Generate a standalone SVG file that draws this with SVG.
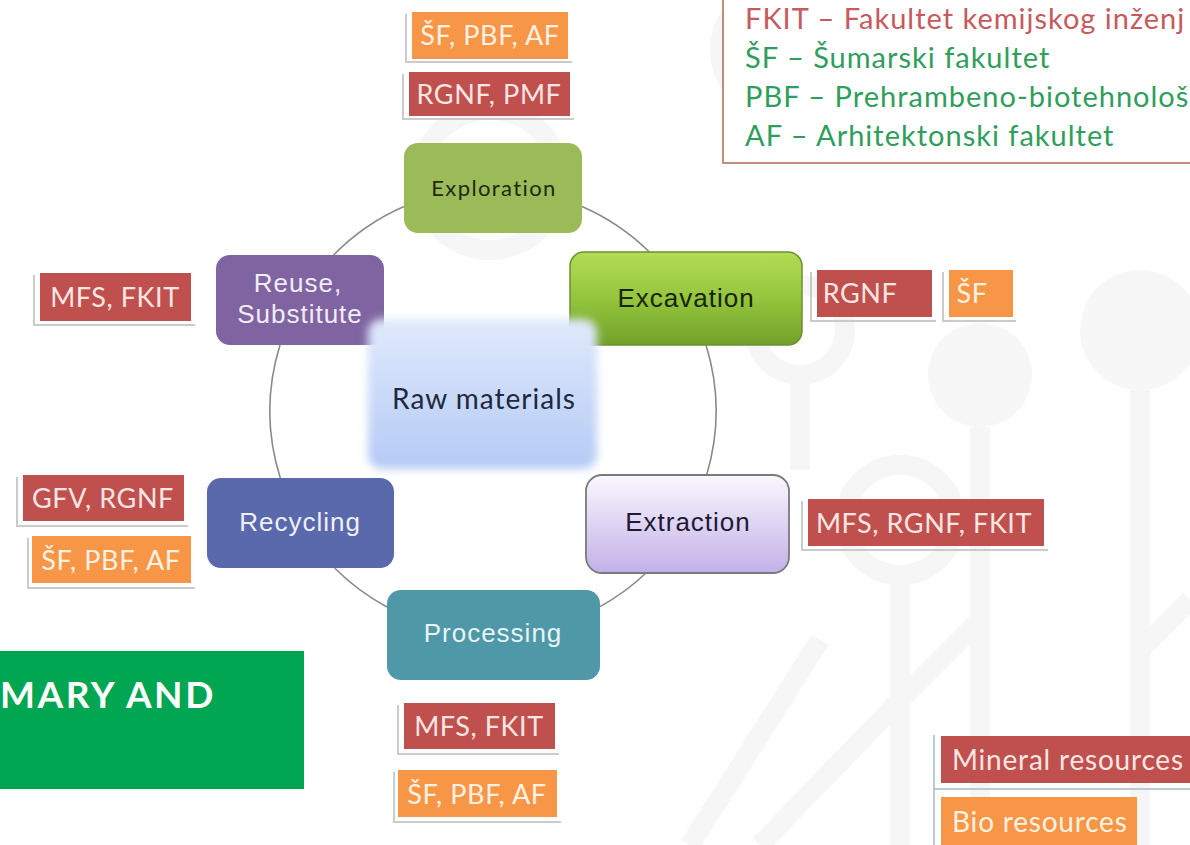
<svg xmlns="http://www.w3.org/2000/svg" width="1190" height="845" viewBox="0 0 1190 845">
<defs>
<style>
.bgs{fill:none;stroke:#f6f6f6;stroke-width:20}
.bgc{fill:#f7f7f7}
.tag{stroke:none}
.red{fill:#c0504d}
.org{fill:#f79646}
.sh{fill:none;stroke:#b9b9b9;stroke-width:2;opacity:0.75}
.tt{font-family:Lato,"Liberation Sans",sans-serif;font-size:27px;letter-spacing:0.6px;text-anchor:middle}
.tr{fill:#fbe6e4}
.to{fill:#fff2e2}
.nt{font-family:"Liberation Sans",Arial,sans-serif;font-size:26px;text-anchor:middle;letter-spacing:1px}
.lg{font-family:Lato,"Liberation Sans",sans-serif;font-size:29px;letter-spacing:1px}
.kt{font-family:Lato,"Liberation Sans",sans-serif;font-size:28px;letter-spacing:0.8px}
.arc{fill:none;stroke:#8a8a8a;stroke-width:1.6}
</style>
<linearGradient id="gExc" x1="0" y1="0" x2="0" y2="1">
<stop offset="0" stop-color="#b2dd55"/><stop offset="0.5" stop-color="#94c53c"/><stop offset="1" stop-color="#72a12a"/>
</linearGradient>
<linearGradient id="gExt" x1="0" y1="0" x2="0" y2="1">
<stop offset="0" stop-color="#faf8fd"/><stop offset="1" stop-color="#c3b0e8"/>
</linearGradient>
<linearGradient id="gRaw" x1="0" y1="0" x2="0" y2="1">
<stop offset="0" stop-color="#dfe9fb"/><stop offset="1" stop-color="#b5cbf6"/>
</linearGradient>
<filter id="blur" x="-10%" y="-10%" width="120%" height="120%"><feGaussianBlur stdDeviation="4"/></filter>
</defs>
<rect width="1190" height="845" fill="#ffffff"/>
<g id="background">
<circle cx="490" cy="180" r="70" class="bgs"/>
<circle cx="1040" cy="60" r="80" class="bgs"/>
<circle cx="780" cy="50" r="60" class="bgs"/>
<circle cx="980" cy="375" r="52" class="bgc"/>
<path d="M980 427 V845" class="bgs"/>
<circle cx="1140" cy="330" r="60" class="bgc"/>
<path d="M1140 390 V845" class="bgs"/>
<circle cx="900" cy="520" r="55" class="bgs"/>
<path d="M900 575 V845" class="bgs"/>
<circle cx="800" cy="330" r="45" class="bgs"/>
<path d="M800 375 V470" class="bgs"/>
<path d="M760 845 L900 700 L980 620" class="bgs"/>
<path d="M1190 600 L1140 650" class="bgs"/>
<path d="M690 845 L820 640" class="bgs"/>
</g>
<g id="connectors">
<path class="arc" d="M582,206.5 A223,223 0 0 1 649.4,252"/>
<path class="arc" d="M706,345 A223,223 0 0 1 706.6,475"/>
<path class="arc" d="M646,573 A223,223 0 0 1 600,606.6"/>
<path class="arc" d="M387,607 A223,223 0 0 1 334.6,568"/>
<path class="arc" d="M280.3,478 A223,223 0 0 1 280,345"/>
<path class="arc" d="M333.6,255 A223,223 0 0 1 404,206.5"/>
</g>
<g id="legend">
<rect x="723" y="-5" width="480" height="168" fill="#ffffff" stroke="#b06a55" stroke-width="1.5"/>
<text class="lg" x="745" y="29" fill="#c65a5c">FKIT – Fakultet kemijskog inženj</text>
<text class="lg" x="745" y="68" fill="#2f9e5c">ŠF – Šumarski fakultet</text>
<text class="lg" x="745" y="107" fill="#2f9e5c">PBF – Prehrambeno-biotehnološ</text>
<text class="lg" x="745" y="146" fill="#2f9e5c">AF – Arhitektonski fakultet</text>
</g>
<g id="banner">
<rect x="0" y="651" width="304" height="138" fill="#00a651"/>
<text x="0" y="708" font-family="Lato,'Liberation Sans',sans-serif" font-weight="bold" font-size="37" letter-spacing="2.5" fill="#ffffff">MARY AND</text>
</g>
<g id="node-exploration">
<rect x="404" y="143" width="178" height="90" rx="14" fill="#9bbb59"/>
<text x="494" y="196" font-family="Lato,'Liberation Sans',sans-serif" font-size="22" letter-spacing="1.4" text-anchor="middle" fill="#1d2a12">Exploration</text>
</g>
<g id="node-excavation">
<rect x="570" y="252" width="232" height="93" rx="14" fill="url(#gExc)" stroke="#6f8f33" stroke-width="1.5"/>
<text class="nt" x="686" y="307" fill="#18230c">Excavation</text>
</g>
<g id="node-extraction">
<rect x="586" y="475" width="203" height="98" rx="16" fill="url(#gExt)" stroke="#7a7a7a" stroke-width="1.8"/>
<text class="nt" x="688" y="531" fill="#1e1a33">Extraction</text>
</g>
<g id="node-processing">
<rect x="387" y="590" width="213" height="90" rx="14" fill="#4f98a7"/>
<text class="nt" x="493" y="642" fill="#e8f4f5">Processing</text>
</g>
<g id="node-recycling">
<rect x="207" y="478" width="187" height="90" rx="14" fill="#5a68ac"/>
<text class="nt" x="300" y="531" fill="#eef0f8">Recycling</text>
</g>
<g id="node-reuse">
<rect x="216" y="255" width="168" height="90" rx="14" fill="#8064a2"/>
<text class="nt" x="298" y="292" font-size="24" fill="#f0ecf5">Reuse,</text>
<text class="nt" x="300" y="323" font-size="24" fill="#f0ecf5">Substitute</text>
</g>
<g id="node-raw">
<rect x="368" y="319" width="229" height="150" rx="14" fill="url(#gRaw)" filter="url(#blur)"/>
<text x="484" y="409" font-family="Lato,'Liberation Sans',sans-serif" font-size="28" letter-spacing="1" text-anchor="middle" fill="#1e2840">Raw materials</text>
</g>
<g id="tags-exploration">
<path class="sh" d="M406,14 V62 H572"/>
<rect class="tag org" x="412" y="12" width="156" height="47"/>
<text class="tt to" x="490" y="45">ŠF, PBF, AF</text>
<path class="sh" d="M403,74 V119 H574"/>
<rect class="tag red" x="409" y="72" width="161" height="44"/>
<text class="tt tr" x="489" y="104">RGNF, PMF</text>
</g>
<g id="tags-excavation">
<path class="sh" d="M811,272 V321 H936"/>
<rect class="tag red" x="817" y="270" width="115" height="47"/>
<text class="tt tr" x="860" y="303">RGNF</text>
<path class="sh" d="M943,272 V321 H1016"/>
<rect class="tag org" x="949" y="270" width="64" height="47"/>
<text class="tt to" x="972" y="303">ŠF</text>
</g>
<g id="tags-extraction">
<path class="sh" d="M802,501 V550 H1048"/>
<rect class="tag red" x="808" y="499" width="236" height="47"/>
<text class="tt tr" x="924" y="533">MFS, RGNF, FKIT</text>
</g>
<g id="tags-reuse">
<path class="sh" d="M34,275 V325 H195"/>
<rect class="tag red" x="40" y="273" width="151" height="48"/>
<text class="tt tr" x="115" y="307">MFS, FKIT</text>
</g>
<g id="tags-recycling">
<path class="sh" d="M17,477 V526 H188"/>
<rect class="tag red" x="23" y="475" width="161" height="46"/>
<text class="tt tr" x="103" y="508">GFV, RGNF</text>
<path class="sh" d="M28,538 V588 H195"/>
<rect class="tag org" x="32" y="536" width="159" height="47"/>
<text class="tt to" x="111" y="570">ŠF, PBF, AF</text>
</g>
<g id="tags-processing">
<path class="sh" d="M398,705 V754 H559"/>
<rect class="tag red" x="404" y="703" width="151" height="46"/>
<text class="tt tr" x="479" y="736">MFS, FKIT</text>
<path class="sh" d="M394,772 V822 H561"/>
<rect class="tag org" x="398" y="770" width="159" height="47"/>
<text class="tt to" x="477" y="804">ŠF, PBF, AF</text>
</g>
<g id="key">
<path d="M934,735 V845" stroke="#a9b8c8" stroke-width="1.5" fill="none"/>
<path d="M934,789 H1190" stroke="#a9b8c8" stroke-width="1.5" fill="none"/>
<rect class="tag red" x="941" y="736" width="260" height="47"/>
<text class="kt" x="952" y="770" fill="#fbe6e4">Mineral resources</text>
<rect class="tag org" x="941" y="797" width="196" height="50"/>
<text class="kt" x="952" y="832" fill="#fff2e2">Bio resources</text>
</g>
</svg>
